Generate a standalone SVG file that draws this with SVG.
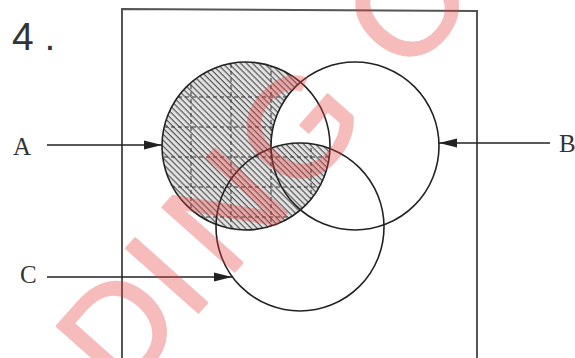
<svg xmlns="http://www.w3.org/2000/svg" width="575" height="358" viewBox="0 0 575 358">
  <style>
    .circle { fill: none; stroke: #222; stroke-width: 1.6; }
    .frame { fill: none; stroke: #555; stroke-width: 2; }
    .conn { stroke: #222; stroke-width: 1.6; fill: none; marker-end: url(#arrow); }
    .grid { stroke: #333; stroke-width: 1; stroke-dasharray: 4 3; fill: none; }
    .lbl { font-family: "Liberation Serif", serif; font-size: 25px; fill: #333; }
    .num { font-family: "Liberation Sans", sans-serif; font-size: 39px; fill: #333; }
    .wm { font-family: "Liberation Sans", sans-serif; font-size: 140px; fill: #e8403f; stroke: #e8403f; stroke-width: 2.5; stroke-linejoin: round; }
  </style>
  <defs>
    <marker id="arrow" markerUnits="userSpaceOnUse" markerWidth="20" markerHeight="12" refX="18" refY="6" orient="auto">
      <path d="M0,1.5 L18,6 L0,10.5 Z" fill="#222"/>
    </marker>
    <pattern id="hatch" patternUnits="userSpaceOnUse" width="4.2" height="4.2" patternTransform="rotate(45)">
      <rect width="4.2" height="4.2" fill="#e2e2e2"/>
      <line x1="0" y1="0.6" x2="4.2" y2="0.6" stroke="#4a4a4a" stroke-width="1.1"/>
    </pattern>
    <clipPath id="shade">
      <path d="M300.5,82.08 A84,84 0 1 0 329.97,148.53 A84,84 0 0 0 271.03,148.16 A84,84 0 0 1 300.5,82.08 Z"/>
    </clipPath>
  </defs>
  <rect width="575" height="358" fill="#fff"/>

  <path id="frame" class="frame" d="M122,360 V9 L477,11 V360"/>
  <text class="num" x="12" y="50">4 .</text>

  <g id="shading" clip-path="url(#shade)">
    <rect x="150" y="50" width="200" height="200" fill="url(#hatch)"/>
    <path class="grid" d="M191,50 V250 M231,50 V250 M271,50 V250 M311,50 V250 M150,97 H350 M150,127 H350 M150,157 H350 M150,187 H350 M150,217 H350"/>
  </g>

  <g id="node-A"><circle class="circle" cx="246" cy="146" r="84"/><text class="lbl" x="13" y="155">A</text></g>
  <g id="node-B"><circle class="circle" cx="355" cy="146" r="84"/><text class="lbl" x="559" y="152">B</text></g>
  <g id="node-C"><circle class="circle" cx="300" cy="227" r="84"/><text class="lbl" x="20" y="283">C</text></g>

  <g id="connectors">
    <line class="conn" x1="47" y1="145" x2="162" y2="145"/>
    <line class="conn" x1="550" y1="143" x2="439" y2="143"/>
    <line class="conn" x1="47" y1="277" x2="232" y2="277"/>
  </g>

  <g id="watermark" opacity="0.35">
    <text class="wm" transform="translate(203,307) rotate(-48.3)" x="-123 -20 36 143 307" y="0">DINGO</text>
  </g>
</svg>
